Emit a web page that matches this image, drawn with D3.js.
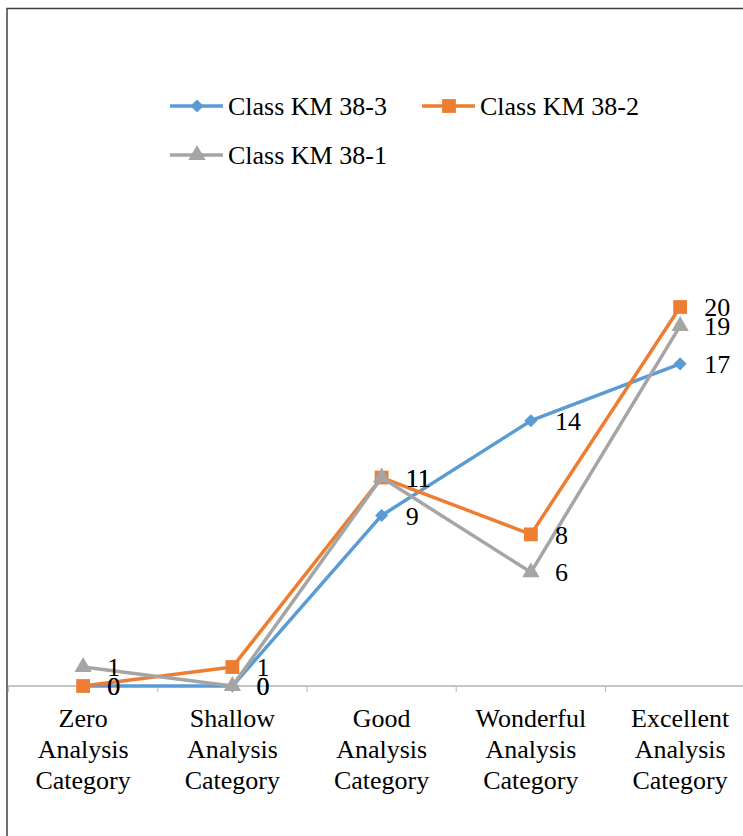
<!DOCTYPE html>
<html>
<head>
<meta charset="utf-8">
<script src="https://cdn.jsdelivr.net/npm/d3@7"></script>
<style>
  html, body { margin: 0; padding: 0; background: #fff; }
  svg { display: block; font-family: "Liberation Serif", "Times New Roman", serif; }
</style>
</head>
<body>
<svg id="chart" width="743" height="836"></svg>
<script>
// Categories along the x axis (each wrapped onto three lines)
const categories = ["Zero Analysis Category", "Shallow Analysis Category", "Good Analysis Category", "Wonderful Analysis Category", "Excellent Analysis Category"];

// Number of students per category, per class
const km383 = [0, 0, 9, 14, 17];
const km382 = [0, 1, 11, 8, 20];
const km381 = [1, 0, 11, 6, 19];

const seriesNames = ["Class KM 38-3", "Class KM 38-2", "Class KM 38-1"];

const series = [
  { name: seriesNames[0], values: km383, color: "#5B9BD5", symbol: d3.symbolDiamond2, size: 110 },
  { name: seriesNames[1], values: km382, color: "#ED7D31", symbol: d3.symbolSquare, size: 190 },
  { name: seriesNames[2], values: km381, color: "#A5A5A5", symbol: d3.symbolTriangle, size: 130 }
];

const svg = d3.select("#chart");

// Outer chart frame (top and left edges visible)
svg.append("rect")
  .attr("x", 7).attr("y", 8.5)
  .attr("width", 760).attr("height", 860)
  .attr("fill", "none")
  .attr("stroke", "#404040")
  .attr("stroke-width", 1.5);

const x = d3.scaleBand().domain(categories).range([8.5, 754.75]);
const y = d3.scaleLinear().domain([0, 25]).range([686, 212.25]);

// Category axis
const axisY = y(0);
svg.append("line")
  .attr("x1", 8).attr("x2", 743)
  .attr("y1", axisY).attr("y2", axisY)
  .attr("stroke", "#8C8C8C").attr("stroke-width", 1.2);

svg.selectAll(".tick-mark")
  .data(categories)
  .join("line")
  .attr("class", "tick-mark")
  .attr("x1", d => x(d)).attr("x2", d => x(d))
  .attr("y1", axisY).attr("y2", axisY + 6)
  .attr("stroke", "#BFBFBF").attr("stroke-width", 1.2);

const catLabels = svg.selectAll(".cat-label")
  .data(categories)
  .join("text")
  .attr("class", "cat-label")
  .attr("text-anchor", "middle")
  .attr("font-size", 26)
  .attr("fill", "#000")
  .attr("transform", d => `translate(${x(d) + x.bandwidth() / 2},727)`);

catLabels.selectAll("tspan")
  .data(d => d.split(" "))
  .join("tspan")
  .attr("x", 0)
  .attr("y", (d, i) => i * 31)
  .text(d => d);

// Lines and markers
const line = d3.line()
  .x((d, i) => x(categories[i]) + x.bandwidth() / 2)
  .y(d => y(d));

series.forEach(s => {
  const g = svg.append("g");
  g.append("path")
    .datum(s.values)
    .attr("d", line)
    .attr("fill", "none")
    .attr("stroke", s.color)
    .attr("stroke-width", 3.5)
    .attr("stroke-linejoin", "round");
  g.selectAll("path.marker")
    .data(s.values)
    .join("path")
    .attr("class", "marker")
    .attr("d", d3.symbol().type(s.symbol).size(s.size))
    .attr("fill", s.color)
    .attr("transform", (d, i) => `translate(${x(categories[i]) + x.bandwidth() / 2},${y(d)})`);
});

// Value labels to the right of each point
series.forEach(s => {
  svg.append("g").selectAll("text")
    .data(s.values)
    .join("text")
    .attr("x", (d, i) => x(categories[i]) + x.bandwidth() / 2 + 24)
    .attr("y", d => y(d))
    .attr("dy", "0.35em")
    .attr("font-size", 26)
    .attr("fill", "#000")
    .text(d => d);
});

// Legend
const legendItems = [
  { s: series[0], lx: 170, ly: 106 },
  { s: series[1], lx: 422, ly: 106 },
  { s: series[2], lx: 170, ly: 155 }
];

legendItems.forEach(({ s, lx, ly }) => {
  const g = svg.append("g").attr("transform", `translate(${lx},${ly})`);
  g.append("line")
    .attr("x1", 0).attr("x2", 53)
    .attr("y1", 0).attr("y2", 0)
    .attr("stroke", s.color).attr("stroke-width", 3.5);
  g.append("path")
    .attr("d", d3.symbol().type(s.symbol).size(s.size))
    .attr("fill", s.color)
    .attr("transform", "translate(27,0)");
  g.append("text")
    .attr("x", 58)
    .attr("y", 0)
    .attr("dy", "0.33em")
    .attr("font-size", 26)
    .attr("fill", "#000")
    .text(s.name);
});
</script>
</body>
</html>
